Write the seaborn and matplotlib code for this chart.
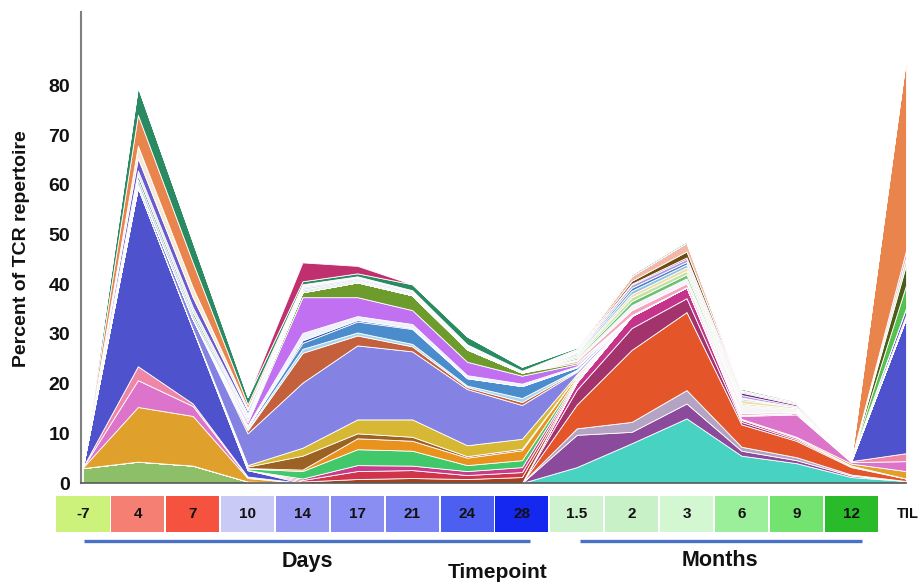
import numpy as np
import matplotlib
matplotlib.use("Agg")
import matplotlib.pyplot as plt
import matplotlib.transforms as mtransforms
from matplotlib.patches import Rectangle
import seaborn as sns

# ---- timepoints -------------------------------------------------------------
timepoints = ["-7", "4", "7", "10", "14", "17", "21", "24", "28",
              "1.5", "2", "3", "6", "9", "12", "TIL"]
box_colors = ["#cdf27c", "#f47f72", "#f5523f", "#c9cbf6", "#9799f2", "#8a8df2",
              "#7a83f1", "#4c5ff1", "#1428f0", "#cff3cf", "#c8f1c8", "#d3f7d0",
              "#9cef9a", "#73e36f", "#2abb2a"]

# ---- clone frequencies (% of TCR repertoire), bottom to top -----------------
#                 -7    4     7     10   14   17   21   24   28   1.5  2     3     6    9    12   TIL
lightgreen  = [3.0, 4.3, 3.5, 0.3, 0, 0, 0, 0, 0, 0, 0, 0, 0, 0, 0, 0]
turquoise   = [0, 0, 0, 0, 0, 0, 0, 0, 0, 3.2, 8.0, 13.0, 5.5, 4.0, 1.2, 0.4]
r_purple    = [0, 0, 0, 0, 0, 0, 0, 0, 0, 6.5, 2.3, 3.0, 1.0, 0.6, 0.3, 0]
r_gray      = [0, 0, 0, 0, 0, 0, 0, 0, 0, 1.3, 2.0, 2.7, 0.8, 0.6, 0.2, 0]
r_orange    = [0, 0, 0, 0, 0, 0, 0, 0, 0, 4.8, 14.5, 15.7, 4.5, 3.3, 1.5, 0.5]
r_maroon    = [0, 0, 0, 0, 0, 0, 0, 0, 0, 3.0, 4.4, 2.8, 0.5, 0.3, 0.2, 0]
r_magenta   = [0, 0, 0, 0, 0, 0, 0, 0, 0, 1.5, 2.4, 2.2, 0.4, 0.3, 0.1, 0]
gold        = [0.15, 11.0, 10.0, 0.7, 0, 0, 0, 0, 0, 0, 0, 0, 0.2, 0.2, 0.4, 1.5]
magenta     = [0.05, 5.4, 2.0, 0.2, 0, 0, 0, 0, 0, 0, 0, 0, 0.6, 4.5, 0.3, 2.0]
pink        = [0.05, 2.8, 0.5, 0.1, 0, 0, 0, 0, 0, 0, 0, 0, 0.2, 0.3, 0.2, 1.6]
blue        = [0.1, 36.0, 15.0, 1.3, 0, 0, 0, 0, 0, 0, 0, 0, 0, 0, 0, 27.2]
m_brownred  = [0, 0, 0, 0, 0.3, 0.8, 1.0, 0.8, 1.2, 0, 0, 0, 0, 0, 0, 0]
m_red       = [0, 0, 0, 0, 0.3, 1.6, 1.6, 0.8, 1.0, 0.3, 0, 0, 0, 0, 0, 0]
m_magenta   = [0, 0, 0, 0, 0.3, 1.2, 0.9, 0.8, 1.0, 0.3, 0, 0, 0, 0, 0, 0]
m_green     = [0, 0, 0, 0.3, 1.5, 3.2, 3.0, 1.2, 1.4, 0.3, 0, 0, 0, 0, 0, 0]
m_orange    = [0, 0, 0, 0.1, 0.3, 2.2, 2.0, 1.5, 2.0, 0.4, 0, 0, 0, 0, 0, 0]
m_brown     = [0, 0, 0, 0.3, 2.8, 1.0, 0.8, 0.3, 0.3, 0, 0, 0, 0, 0, 0, 0]
m_yellow    = [0, 0, 0, 0.3, 1.6, 2.8, 3.5, 2.2, 2.0, 0.3, 0, 0, 0, 0, 0, 0]
lavender    = [0, 0.6, 2.0, 6.4, 13.1, 14.9, 13.7, 11.3, 6.8, 0.5, 0.2, 0, 0, 0, 0, 0]
m_redbrown  = [0, 0, 0, 0.6, 6.0, 2.0, 1.0, 0.4, 0.6, 0.2, 0, 0, 0, 0, 0, 0]
m_lightblue = [0, 0, 0, 0.3, 0.8, 0.6, 0.5, 0.3, 0.8, 0.2, 0, 0, 0, 0, 0, 0]
m_blue      = [0, 0, 0, 0.4, 1.2, 2.2, 3.0, 1.5, 2.4, 0.5, 0, 0, 0, 0, 0, 0]
m_navy      = [0, 0, 0, 0, 0.5, 0.3, 0.2, 0, 0, 0, 0, 0, 0, 0, 0, 0]
m_white     = [0, 0, 0, 0.3, 1.5, 0.8, 0.8, 0.6, 0.5, 0.2, 0, 0, 0, 0, 0, 0.6]
m_violet    = [0, 0, 0, 0.6, 7.2, 3.8, 2.8, 2.7, 1.6, 0.4, 0, 0, 0, 0, 0, 0]
m_olive     = [0, 0, 0, 0.5, 1.0, 3.0, 3.0, 2.5, 0.6, 0.3, 0, 0, 0, 0, 0, 0]
r_pink      = [0, 0, 0, 0, 0, 0, 0, 0, 0, 0.4, 1.0, 0.8, 0.4, 0.2, 0.1, 0]
r_white     = [0, 0, 0, 0, 0, 0, 0, 0, 0, 0.3, 1.0, 1.0, 1.5, 0.3, 0.1, 0]
r_green     = [0, 0, 0, 0, 0, 0, 0, 0, 0, 0.3, 0.8, 0.8, 0.2, 0.2, 0, 0]
r_lgreen    = [0, 0, 0, 0, 0, 0, 0, 0, 0, 0.3, 0.8, 0.7, 0.3, 0.2, 0, 0]
r_cream     = [0, 0, 0, 0, 0, 0, 0, 0, 0, 0.3, 0.6, 0.7, 0.6, 0.3, 0, 0]
r_lblue     = [0, 0, 0, 0, 0, 0, 0, 0, 0, 0.3, 0.7, 0.6, 0.3, 0, 0, 0]
r_blue      = [0, 0, 0, 0, 0, 0, 0, 0, 0, 0.2, 0.6, 0.5, 0.2, 0, 0, 0]
r_lilac     = [0, 0, 0, 0, 0, 0, 0, 0, 0, 0.2, 0.6, 0.6, 0.5, 0.2, 0, 0]
r_dpurple   = [0, 0, 0, 0, 0, 0, 0, 0, 0, 0.1, 0.2, 0.3, 0.5, 0.3, 0, 0]
r_brown     = [0, 0, 0, 0, 0, 0, 0, 0, 0, 0.1, 0.6, 1.2, 0.2, 0.2, 0, 0]
r_salmon    = [0, 0, 0, 0, 0, 0, 0, 0, 0, 0.3, 1.0, 1.8, 0.3, 0.3, 0.1, 0]
l_gray      = [0, 1.0, 0.8, 0.5, 0.3, 0.2, 0.2, 0.2, 0.1, 0, 0, 0, 0, 0, 0, 0]
l_dkgreen   = [0, 0.8, 0.6, 0.3, 0.2, 0.2, 0.1, 0.1, 0.05, 0, 0, 0, 0, 0, 0, 0]
l_pale      = [0, 1.0, 1.0, 0.5, 0.4, 0.3, 0.3, 0.3, 0.1, 0, 0, 0, 0, 0, 0, 0]
l_purple    = [0, 2.5, 2.0, 0.6, 0.2, 0.2, 0.2, 0.2, 0.05, 0, 0, 0, 0, 0, 0, 1.4]
l_cream     = [0, 2.5, 2.0, 0.5, 0.3, 0.2, 0.1, 0.1, 0.05, 0, 0, 0, 0, 0, 0, 0]
til_green   = [0, 0, 0, 0, 0, 0, 0, 0, 0, 0, 0, 0, 0, 0, 0, 4.6]
til_olive   = [0, 0, 0, 0, 0, 0, 0, 0, 0, 0, 0, 0, 0, 0, 0, 4.1]
til_light   = [0, 0, 0, 0, 0, 0, 0, 0, 0, 0, 0, 0, 0, 0, 0, 1.5]
til_pink    = [0, 0, 0, 0, 0, 0, 0, 0, 0, 0, 0, 0, 0, 0, 0, 1.4]
l_orange    = [0, 6.2, 5.0, 0.7, 0.2, 0.1, 0.1, 0.1, 0.05, 0, 0, 0, 0, 0, 0, 38.7]
l_green     = [0, 5.6, 4.1, 1.5, 0.6, 0.6, 1.2, 1.6, 0.8, 0.3, 0.3, 0.3, 0.3, 0.2, 0.1, 0]
crimson     = [0, 0, 0, 0, 3.8, 1.5, 0, 0, 0, 0, 0, 0, 0, 0, 0, 0]

clones = [lightgreen, turquoise, r_purple, r_gray, r_orange, r_maroon, r_magenta,
          gold, magenta, pink, blue,
          m_brownred, m_red, m_magenta, m_green, m_orange, m_brown, m_yellow,
          lavender, m_redbrown, m_lightblue, m_blue, m_navy, m_white, m_violet, m_olive,
          r_pink, r_white, r_green, r_lgreen, r_cream, r_lblue, r_blue, r_lilac,
          r_dpurple, r_brown, r_salmon,
          l_gray, l_dkgreen, l_pale, l_purple, l_cream,
          til_green, til_olive, til_light, til_pink,
          l_orange, l_green, crimson]

clone_colors = ["#8cbf68", "#48d2c2", "#8c4a9c", "#b4a4c4", "#e5552a", "#a2336c", "#c4348a",
                "#e0a02c", "#dc74cc", "#ee86a8", "#4e52cc",
                "#a4421e", "#d0344a", "#c83c8c", "#40c86a", "#ea921e", "#9c6224", "#d6b834",
                "#8482e2", "#c4603c", "#a8d4f0", "#4a8ccc", "#2a4cb0", "#eef0fa", "#c070f0", "#6e9c2c",
                "#f4a4c0", "#f6f4f8", "#6cc070", "#c0e2a8", "#f2dca0", "#90c2e8", "#4a80c8", "#b098e0",
                "#6a2a90", "#6e4c12", "#f2b8a8",
                "#b8c8e0", "#2f6b3a", "#d8e4f4", "#6a5acd", "#f6ead4",
                "#56c24e", "#4e5c1a", "#c8e8c0", "#f0a0c0",
                "#e8844c", "#2a8a62", "#c0306e"]

# ---- figure -----------------------------------------------------------------
sns.set_theme(style="white")
plt.rcParams["font.family"] = ["Liberation Sans", "DejaVu Sans"]

fig = plt.figure(figsize=(9.22, 5.84), dpi=100)
ax = fig.add_axes([81 / 922, 101 / 584, 825 / 922, 471 / 584])

x = np.arange(len(timepoints))
ax.stackplot(x, *clones, colors=clone_colors, edgecolor="white", linewidth=0.6)

ax.set_xlim(-2 / 54.87, len(timepoints) - 1)
ax.set_ylim(0, 94.8)
ax.set_xticks([])
ax.set_yticks(range(0, 81, 10))
ax.set_yticklabels([str(v) for v in range(0, 81, 10)], fontsize=14, fontweight="bold")
ax.tick_params(axis="y", length=0, pad=8, colors="#111111")

sns.despine(ax=ax)
ax.spines["left"].set_color("#808080")
ax.spines["left"].set_linewidth(1.5)
ax.spines["bottom"].set_color("#5a5a5a")
ax.spines["bottom"].set_linewidth(1.2)

fig.text(22 / 922, 1 - 249 / 584, "Percent of TCR repertoire", rotation=90,
         ha="center", va="center", fontsize=14, fontweight="bold", color="#111111")

# ---- timepoint boxes under the axis -----------------------------------------
trans = mtransforms.blended_transform_factory(ax.transData, ax.transAxes)
box_w = 0.966
box_top, box_bot = -13 / 471, -49 / 471
for i, (lab, col) in enumerate(zip(timepoints[:-1], box_colors)):
    ax.add_patch(Rectangle((i - box_w / 2, box_bot), box_w, box_top - box_bot,
                           transform=trans, facecolor=col, edgecolor="none",
                           clip_on=False))
    ax.text(i, (box_top + box_bot) / 2, lab, transform=trans, ha="center", va="center",
            fontsize=11, fontweight="bold", color="#111111", clip_on=False)
fig.text(897 / 922, 1 - 514 / 584, timepoints[-1], ha="left", va="center",
         fontsize=10.5, fontweight="bold", color="#111111")

# group brackets
line_y = -58 / 471
ax.plot([0.02, 8.15], [line_y, line_y], transform=trans, clip_on=False,
        color="#4a72c4", lw=2.4, solid_capstyle="butt")
ax.plot([9.06, 14.2], [line_y, line_y], transform=trans, clip_on=False,
        color="#4a72c4", lw=2.4, solid_capstyle="butt")

fig.text(307 / 922, 1 - 561 / 584, "Days", ha="center", va="center",
         fontsize=15.5, fontweight="bold", color="#111111")
fig.text(720 / 922, 1 - 561 / 584, "Months", ha="center", va="center",
         fontsize=15.5, fontweight="bold", color="#111111")
fig.text(498 / 922, 1 - 572 / 584, "Timepoint", ha="center", va="center",
         fontsize=15, fontweight="bold", color="#111111")

fig.savefig("out.png", dpi=100)
